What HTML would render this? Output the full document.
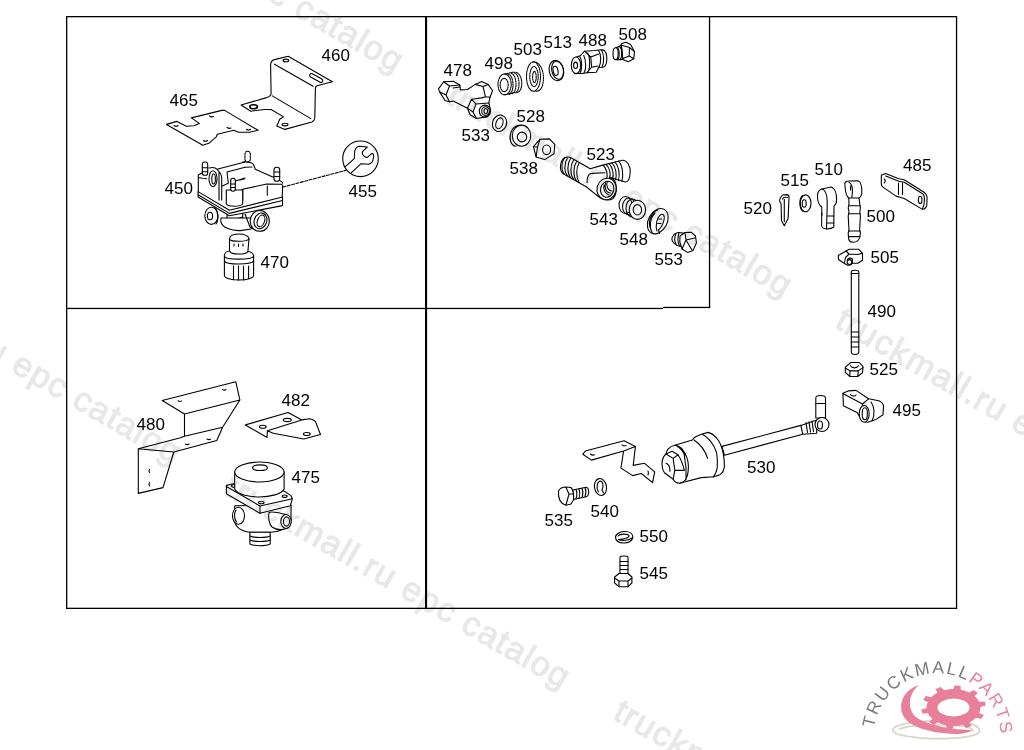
<!DOCTYPE html>
<html><head><meta charset="utf-8">
<style>
html,body{margin:0;padding:0;background:#fff;width:1024px;height:750px;overflow:hidden}
svg{position:absolute;left:0;top:0;display:block;will-change:transform}
.wm{font-family:"Liberation Sans",sans-serif;font-size:34px;fill:#e8e8e8;stroke:#e8e8e8;stroke-width:1.1px;letter-spacing:1.4px}
.lb{font-family:"Liberation Sans",sans-serif;font-size:17px;fill:#000}
.p{fill:none;stroke:#000;stroke-width:1.1;stroke-linejoin:round;stroke-linecap:round}
.f{fill:#fff;stroke:#000;stroke-width:1.1;stroke-linejoin:round;stroke-linecap:round}
</style></head>
<body>
<svg width="1024" height="750" viewBox="0 0 1024 750">
<!-- frame -->
<g fill="#000">
<rect x="66" y="16" width="891" height="1.3"/>
<rect x="66" y="607.7" width="891" height="1.3"/>
<rect x="66" y="16" width="1.3" height="593"/>
<rect x="955.9" y="16" width="1.3" height="593"/>
<rect x="425" y="16" width="2.1" height="593"/>
<rect x="66" y="307.8" width="597" height="1.3"/>
<rect x="663" y="306.8" width="47" height="1.3"/>
<rect x="708.9" y="16" width="1.3" height="292"/>
</g>
<!-- labels -->
<g class="lb">
<text x="321.5" y="61">460</text>
<text x="169.5" y="106">465</text>
<text x="164.5" y="194">450</text>
<text x="348.5" y="197">455</text>
<text x="260.5" y="268">470</text>
<text x="443.5" y="76">478</text>
<text x="484.5" y="69">498</text>
<text x="513.5" y="55">503</text>
<text x="543.5" y="47.5">513</text>
<text x="578.5" y="46">488</text>
<text x="618.5" y="40">508</text>
<text x="516.5" y="122">528</text>
<text x="461.5" y="141">533</text>
<text x="509.5" y="174">538</text>
<text x="586.5" y="160">523</text>
<text x="589.5" y="225">543</text>
<text x="619.5" y="245">548</text>
<text x="654.5" y="265">553</text>
<text x="903" y="171">485</text>
<text x="780.5" y="185.5">515</text>
<text x="814.5" y="175">510</text>
<text x="743.5" y="214">520</text>
<text x="866.5" y="221.5">500</text>
<text x="870.5" y="263">505</text>
<text x="867.5" y="317">490</text>
<text x="869.5" y="375">525</text>
<text x="892.5" y="416">495</text>
<text x="747" y="472.5">530</text>
<text x="544.5" y="526">535</text>
<text x="590.5" y="517">540</text>
<text x="639.5" y="542">550</text>
<text x="639.5" y="579">545</text>
<text x="136.5" y="429.6">480</text>
<text x="281.5" y="405.5">482</text>
<text x="291.5" y="483">475</text>
</g>

<!-- logo -->
<defs><path id="arc" d="M874.1,728.2 A63.5,63.5 0 0 1 1000.3,731.5"/></defs>
<g>
<path d="M893,729 C897,723 925,720 950,721 C972,722 982,727 979,732 C975,738 945,740 920,738 C903,736 891,734 893,729 Z M899,729.5 C906,725.5 930,724.5 955,725.5 C969,726 975,729 972,732" fill="none" stroke="#d8d8cf" stroke-width="2"/>
<path d="M980.2,710.3 L979.2,713.1 L983.9,715.1 L981.3,718.9 L976.0,717.7 L972.7,720.5 L969.5,722.4 L971.6,725.9 L966.2,727.9 L963.0,724.8 L957.9,725.8 L953.7,726.0 L952.3,729.7 L946.3,729.1 L946.3,725.3 L941.4,724.0 L937.8,722.5 L933.5,725.0 L929.1,722.1 L932.4,719.0 L929.5,716.0 L927.9,713.3 L922.3,713.6 L921.2,709.5 L926.5,708.3 L926.8,704.7 L927.8,701.9 L923.1,699.9 L925.7,696.1 L931.0,697.3 L934.3,694.5 L937.5,692.6 L935.4,689.1 L940.8,687.1 L944.0,690.2 L949.1,689.2 L953.3,689.0 L954.7,685.3 L960.7,685.9 L960.7,689.7 L965.6,691.0 L969.2,692.5 L973.5,690.0 L977.9,692.9 L974.6,696.0 L977.5,699.0 L979.1,701.7 L984.7,701.4 L985.8,705.5 L980.5,706.7 Z" fill="#e8809a"/>
<ellipse cx="953.5" cy="707.5" rx="16" ry="9" fill="#fff"/>
<path d="M919,685 C904,690 899,702 902,713 C906,726 928,733 955,734 C964,734 970,732 972,730 C955,730 928,726 916,717 C907,709 908,694 919,685 Z" fill="#e8809a"/>
<text font-family="Liberation Sans, sans-serif" font-size="17.5" letter-spacing="1.9"><textPath href="#arc" startOffset="0"><tspan fill="#7a7a7a">TRUCKMALL</tspan><tspan fill="#e8809a">PARTS</tspan></textPath></text>
</g>
<!-- PARTS -->
<!-- 520 cotter pin -->
<g class="p">
<path d="M781.1,203.9 C779,202 779,199 782.5,195 L787.1,194.6 C788.5,195 789.2,196.5 789,197.9 L788.1,218.4 L784.3,225.8 L781.5,220.7 Z M784.3,199.3 L784.3,221.6 M782.5,199 C783,197.5 785,197 787.5,197.5"/>
</g>
<!-- 515 washer -->
<g class="p">
<ellipse cx="805.6" cy="203.3" rx="5.4" ry="8.4"/>
<path d="M803,195.5 C799,197 798.5,209 803.5,211.5"/>
<ellipse cx="804.2" cy="203.5" rx="2" ry="3.8"/>
</g>
<!-- 510 clevis -->
<g class="p">
<path class="f" d="M817.5,197 C817,192 819,190 822,189 L831,187 C835,188 836.6,194 836.6,199 C836.6,203 835.5,205 834,206 L833.8,227 C831,229 826,229 823,228 L821.6,226 L821.8,207 C819,205 817.5,201 817.5,197 Z"/>
<path d="M822,189 C826,190 827.5,196 827.2,206 L826.5,229 M821.8,213 L822,215 M827,216 L833.8,216 M827,223 L833.8,223"/>
</g>
<!-- 500 rod end -->
<g class="p">
<path class="f" d="M845,186 C844,182 846,181 849,181 L858,180.8 C861,182 862,188 861.8,193 C861.5,196 860,197.5 859,198 L859.8,204 L860.4,208 L859.8,212 L860.4,216 L859.6,230 L860.4,233 L859.8,237 C859,241 856,242.2 853,242.2 C850,242.2 848.5,240 848.5,237 L848.2,233 L849,230 L848.2,216 L849,212 L848.2,208 L849,204 L848.8,198 C846,196 845.2,190 845,186 Z"/>
<path d="M848.8,182 C852,183.5 853,190 852,197 M850.5,186 L850.5,190 M849,198 L859,198 M848.5,205.8 L860,205.8 M848.5,213.7 L860,213.7 M848.5,231 L860,231 M849,236.6 L859.8,236.6"/>
</g>
<!-- 485 plate -->
<g class="p">
<path class="f" d="M881.3,175.3 L885.7,173.5 L898.7,178.7 L904.2,179.7 L923.3,191.7 C926,193.5 927.1,195.5 927.1,197.8 L926.7,206 C925.5,208.5 923.5,209.5 922,209.1 L904.2,198.5 L896,196.1 L882.6,186.9 C881.5,185.5 881.3,184.5 881.3,183.5 Z"/>
<path d="M885.7,176 L898.7,181.2 L904.2,182.2 L923,194 C925,196 925,204 922.5,208.5 M898.5,183 L898.5,194.4 M902.5,183 L902.5,194.4 M884.2,179 C885.5,180 885.5,182 884.2,183"/>
<ellipse cx="920.2" cy="199.9" rx="1.8" ry="3.6"/>
</g>
<!-- 505 clamp -->
<g class="p">
<path class="f" d="M838.3,255.5 L846,251 L849.2,249.3 L858.8,249.3 L862.5,253.3 L862.5,260.3 L857.7,263.2 L852.4,263.2 L850.8,265 L847.6,265.3 L843.3,262.7 L838.5,259.5 Z"/>
<path d="M846,251 L849,254 L858,254.5 L862.5,253.3 M849,254 L845.5,257.5 L844.5,262.5 M852.4,263.2 L852.4,259 C851,258 849,258 847.5,259.5"/>
<circle cx="849.5" cy="262" r="2.4"/>
</g>
<!-- 490 rod -->
<g class="p">
<path class="f" d="M851.3,272 C851.3,270.5 852,270.2 855,270.2 C858,270.2 858.8,270.5 858.8,272 L858.8,352 C858.8,354 857,354.5 855,354.5 C853,354.5 851.3,354 851.3,352 Z"/>
<path d="M851.3,273.5 L858.8,273.5 M851.3,332 L858.8,332 M851.3,337 L858.8,337 M851.3,342 L858.8,342 M851.3,347 L858.8,347"/>
</g>
<!-- 525 nut -->
<g class="p">
<path class="f" d="M845.3,367.1 L850.9,362.5 L859.3,362.5 L863,366.7 L862.5,372.7 L857.4,376.5 L849.9,376.5 L845.3,372.3 Z"/>
<path d="M845.3,368 L849.9,370.9 L858.2,370.9 L863,367.6 M849.9,370.9 L849.9,376.5 M858.2,370.9 L857.8,376.5 M850.5,365.8 C852,368.5 857,368.5 858.5,365.8"/>
</g>
<!-- 495 block -->
<g class="p">
<path class="f" d="M842.9,393.2 L848.1,390.9 L856,390.4 L868.6,398.8 L878.8,400.7 C881.5,402 883.5,404 883.5,406.3 L883,414.7 L876,419.4 L867.6,422.2 C864,422 862,421 861.1,419.4 L857.4,412.8 L843.4,405.8 Z"/>
<path d="M842.9,393.5 L862.5,404 L868.6,398.8 M862.5,404 L862,412 M871,402 C874,406 875.5,414 872,421"/>
<ellipse class="f" cx="864.2" cy="413.8" rx="5" ry="8.4"/>
<ellipse cx="864.8" cy="413.8" rx="2.6" ry="6"/>
<path d="M850.5,394.6 C851.5,396.5 855,396.5 856,395"/>
</g>
<!-- 530 cylinder + rod -->
<g class="p">
<path class="f" d="M816.7,420 L800.9,425.4 L722,446.4 L724.4,455.2 L802.7,434.2 L816.7,433.3 Z"/>
<path d="M800.9,425.4 L802.7,434.2 M806,422.5 L807.5,432.5 M809,421.8 L810.5,432 M812,421 L813.5,431.5"/>
<path class="f" d="M815.8,398 C815.8,396 817,395.5 820.5,395.5 C824,395.5 825.5,396 825.5,398 L825.5,418 L815.8,418 Z"/>
<path d="M815.8,403.5 L825.5,403.5"/>
<ellipse class="f" cx="822" cy="424.5" rx="7" ry="7"/>
<ellipse cx="820" cy="425" rx="2.5" ry="4"/>
<path class="f" d="M674.8,445.2 L692.4,440 C693.5,438.5 694.5,437.5 695.6,436.8 L702,434 L708.4,432.4 C714,434 719,440 720.4,444 C723,450 724.4,458 724.4,466.4 C724,470 722.5,473 720.4,474.4 L714,476.8 L701.2,477.6 L679.6,483.2 C676,483 674,481 673.2,479.2 L664.4,472.8 C662.5,470 662,467 662,464 C662,459 663.5,456 666,454 C666.5,451.5 667.5,449.5 668.4,448.8 C670.5,446.5 672.5,445.5 674.8,445.2 Z"/>
<path d="M674.8,445.2 C679,446 681,447.5 682,448.8 C686,454 688.4,460 688.4,466.4 C688.4,473 687,477.5 685.2,480 C683.5,482 681.5,483 679.6,483.2 M677.2,446.4 C681,449 684.4,452 684.4,456 C686,464 686.5,472 686,480 M694,440 C700,444 705,450 707.6,458.4 M702.8,434.4 C709,438 714,445 716.4,452 C717.5,457 717.5,463 717.2,468 C716.5,472 715,475 713.2,476.8"/>
<path d="M666,454 L672,451.2 L678,454.8 L673.2,458.4 Z M673.2,458.4 L674.8,470.4 L684.4,470.4 M674.8,470.4 L673.2,479.2 M678,454.8 C681,459 683,465 684.4,470.4"/>
<path d="M666,463.2 C668.5,464 670,467 670,471.2"/>
</g>
<!-- bracket near 530 -->
<g class="p">
<path d="M582.8,454.2 L585.4,451 L624.1,440.7 L635.4,446.6 L633.2,465.4 L644.5,463.3 L654.7,471.9 L652.6,482.6 L641.3,473.5 L632.7,475.6 L620.9,468.1 L623.6,451 L591.4,460.1 Z M635.4,446.6 L623.6,451"/>
<path d="M590.5,454 q2,1.8 4,0.8 M622,444.8 q2,1.8 4,0.8 M648,471 q0.8,2 0,4"/>
</g>
<!-- 535 bolt -->
<g class="p">
<path class="f" d="M573,490 L586,487.3 C588,487.5 588.7,490 588.7,492.5 C588.5,495 587.5,496.5 586,496.8 L573,499.5 Z"/>
<path d="M576,489.5 C577,492 577,496 576,499 M579,488.8 C580,491.5 580,495.5 579,498.3 M582,488.2 C583,491 583,495 582,497.6 M585,487.5 C586,490 586,494 585,496.8"/>
<path class="f" d="M558.5,491 C560,488 563,487 566,487 L571,487.5 C573,489 574,495 573.5,500 L571,504 L566,505.2 C561,504 558,499 558.5,491 Z"/>
<path d="M566,487.5 L569,494 L566,505 M569,494 L573.5,494"/>
</g>
<!-- 540 washer -->
<g class="p">
<ellipse cx="600.5" cy="487" rx="6" ry="8.5" transform="rotate(-10 600.5 487)"/>
<path d="M598.5,492 C596,488 597,482 600,481 C603,481 604,486 602,490 L603.5,493"/>
</g>
<!-- 550 -->
<g class="p">
<path d="M615.5,537 C615.5,533.5 621,531.5 625,531.5 C630,531.5 632.8,534 632.8,537 C632.8,541 628,543 624,543 C619,543 615.5,541 615.5,537 Z"/>
<path d="M618,536 C620,533.5 628,533.5 629,535.8 C629.5,538 623,539 618.5,539.5 C622,541 629,540.5 632,538"/>
</g>
<!-- 545 -->
<g class="p">
<path class="f" d="M620,557.5 C620,556 621,556 624,556 C627,556 628,556 628,557.5 L628,574 L620,574 Z"/>
<path d="M620,561.5 L628,561.5 M620,565.5 L628,565.5 M620,569.5 L628,569.5"/>
<path class="f" d="M614.6,577 L619,573.5 L628,573.5 L631.9,577 L631.9,583 L628,586.7 L619,586.7 L614.6,583 Z"/>
<path d="M614.6,578 L619,581 L628,581 L631.9,578 M619,581 L619,586.7 M628,581 L628,586.7"/>
</g>
<!-- 480 bracket -->
<g class="p">
<path d="M162.2,400.5 L235.8,381.8 L239.9,400 L184.5,414 Z M239.9,400 L222.6,427.2 L216.8,440.5 L173.8,452 L138.3,448.7 L179.6,438 L184.5,436.3 L184.5,414 M184.5,436.3 L222.6,427.2 M138.3,448.7 L138.3,493.4 L163,487.6 L173.8,452"/>
<path d="M178,400.8 q2,1.3 3.5,0 M222.5,389.5 q2,1.3 3.5,0 M185.5,444 q2,1.3 3.5,0 M207,439 q2,1.3 3.5,0 M149.5,469.5 q-1.2,1.5 0,3 M149.5,482.8 q-1.2,1.5 0,3"/>
</g>
<!-- 482 bracket -->
<g class="p">
<path d="M245.4,424.9 L288.1,412.5 L301.8,419.9 L309.7,418.7 C312,419 314,420 315.5,421.6 L320.5,434.5 L303.9,439 L273.2,433.2 L267.4,430.7 L267,437.4 Z M267.4,430.7 L301.8,419.9"/>
<ellipse cx="262.8" cy="426.7" rx="3.4" ry="1.5"/>
<ellipse cx="287.3" cy="420" rx="4" ry="1.6"/>
<ellipse cx="306.8" cy="434" rx="3.4" ry="1.5"/>
</g>
<!-- 475 valve -->
<g class="p">
<path class="f" d="M234.7,505.7 L291,505 L291,522 C289,528 280,532 270,532.3 L250,532.3 C240,531 235,526 234.7,520 Z"/>
<path class="f" d="M249.9,532.3 L270.2,532.3 L270.2,544 C266,546.3 254,546.3 249.9,544 Z"/>
<path d="M249.9,536 C254,538 266,538 270.2,536 M249.9,540 C254,542 266,542 270.2,540"/>
<ellipse class="f" cx="238.5" cy="515.8" rx="6" ry="8.5"/>
<path d="M236,510 C234,513 234,519 236.5,522"/>
<path class="f" d="M269,512.5 C272,511 280,513 286,514.5 L287,528.5 C282,530 276,530 272,527 C269,524 268,517 269,512.5 Z"/>
<ellipse class="f" cx="286" cy="521.5" rx="5.2" ry="7"/>
<ellipse cx="286.5" cy="521.5" rx="3" ry="4.6"/>
<path class="f" d="M226.4,485.4 L234.7,483.5 L284,491 L291,495.6 L292.3,498.7 L290.4,505.7 L260,513.3 L226.4,493.7 Z"/>
<path d="M226.4,486.5 L260,506 L292.3,498.7 M260,506 L260,513.3"/>
<ellipse cx="234" cy="486" rx="2.5" ry="1.2"/>
<ellipse cx="284.7" cy="496.2" rx="2.5" ry="1.2"/>
<ellipse cx="261.3" cy="502.5" rx="2.8" ry="1.3"/>
<path class="f" d="M234.7,472 L234.7,489 C238,495 250,497 259.4,497 C270,497 282,494 284.1,489 L284.1,472 Z"/>
<ellipse class="f" cx="259.4" cy="472" rx="24.7" ry="10"/>
<ellipse cx="260" cy="467.7" rx="7.4" ry="2.8"/>
</g>

<!-- 478 T fitting -->
<g class="p">
<path class="f" d="M438.5,88.9 L443.7,81.8 L453.3,81.2 L459.8,85 L460.4,89.9 L467.5,89.5 L475.2,84.4 L481.7,81.5 L488.1,84.4 L492.6,90.8 L490,97.3 L488.8,103 L490.7,110.8 L487.5,116.6 L476.5,118.5 L470.1,114.7 L467.5,108.2 L453.3,101.1 L449.5,101.8 L445,100.5 L439.8,92.1 Z"/>
<path d="M443.7,81.8 L449.5,86 L459.8,85 M449.5,86 L446,95 L449.5,101.8 M439.8,92.1 L446,95 M475.2,84.4 L483,86.5 L488.1,84.4 M483,86.5 L485.5,96.8 M490,97.3 L485.5,96.8 L481.7,97.9 L471.4,99.2 L467.5,108.2 M471.4,99.2 L476,104 L488.8,103 M476,104 L473,112 L476.5,118.5 M473,112 L467.5,108.2 M453,88 L460,87"/>
<ellipse cx="484.9" cy="111.1" rx="5.6" ry="6"/>
<ellipse cx="485.5" cy="111.1" rx="3.8" ry="4.4"/>
<ellipse cx="485.8" cy="111.1" rx="1.8" ry="2.6"/>
</g>
<!-- 498 bush (dotted) -->
<g class="p" stroke-dasharray="1.3,1">
<path d="M504.6,74 L514,72 M504.6,94.8 L514,92.5"/>
<path d="M508,74 C514,75 515,92 509,94.5 M511,73.3 C517,74.5 518,91.5 512,93.8 M514,72.6 C520,74 521,91 515,93 M516,72.3 C523,74 524,91 517,92.6"/>
<ellipse cx="504.6" cy="84.4" rx="6.6" ry="10.4"/>
<ellipse cx="504.2" cy="85" rx="4" ry="6.6"/>
</g>
<!-- 503 ring dotted -->
<g class="p" stroke-dasharray="1.3,1">
<path d="M533,61.8 C540,61 545,72 543,83 C542,89 539,92 535,91"/>
<ellipse cx="533.5" cy="76.6" rx="7" ry="14.6"/>
<ellipse cx="534" cy="76.5" rx="4.2" ry="10"/>
<ellipse cx="534.4" cy="77" rx="1.8" ry="5.6"/>
</g>
<!-- 513 washer -->
<g class="p">
<ellipse cx="556.4" cy="70.6" rx="7.2" ry="10.2" transform="rotate(-12 556.4 70.6)"/>
<ellipse cx="557.6" cy="70.2" rx="5.8" ry="9.2" transform="rotate(-12 557.6 70.2)"/>
<ellipse cx="555.6" cy="70.8" rx="2.4" ry="4.6" transform="rotate(-12 555.6 70.8)"/>
</g>
<!-- 488 fitting -->
<g class="p">
<path class="f" d="M576,57.2 L580.6,55.5 L584.5,51.2 L594.7,50.5 L598.6,50 L603,49.8 C606,51 607,56 606.8,60 C606.5,64 605,67 603,67.3 L598.6,67.5 L596.25,72.3 L586.9,72.7 L582,73.5 L576,73.5 Z"/>
<ellipse class="f" cx="576" cy="65.3" rx="4.7" ry="8.3"/>
<ellipse cx="575.6" cy="65.3" rx="2" ry="3.2"/>
<path d="M579.8,56.5 C582,60 582.5,69 580,73.2 M583.75,55.5 C586,60 586.5,69 584,72.8 M587.7,53 C590,57 590.5,67 588,72.6 M584.5,51.2 L590.8,57 L591.6,67.25 L586.9,72.7 M590.8,57 L598.6,54 M591.6,67.25 L598,66 M598.6,50.5 C601,54 601.5,62 599,67.4 M601.5,50 C604,54 604.5,62 602,67.3"/>
</g>
<!-- 508 plug -->
<g class="p">
<path class="f" d="M621.25,43.8 L626,42.25 L630.6,44.6 L634.5,51.6 L633.75,58.7 L628.3,61.8 L622.8,59.4 Z"/>
<path d="M622.5,45.5 L629.5,47.5 L634.5,51.6 M629.5,47.5 L629.2,56 L633.75,58.7 M629.2,56 L622.8,58.5"/>
<path class="f" d="M615.6,47.8 C617.5,47.5 620,46 621.25,45 L622.8,59.4 C620,59.8 617.5,59.8 615.6,59.6 Z"/>
<ellipse class="f" cx="615.6" cy="53.7" rx="2.6" ry="5.9"/>
<path d="M617.3,47.6 C619.5,49 620,57 617.8,59.7 M619.8,46.8 C622,48.5 622.5,57 620.2,59.7"/>
</g>
<!-- 533 washer -->
<g class="p">
<ellipse cx="499.5" cy="123.3" rx="7" ry="8.4" transform="rotate(20 499.5 123.3)"/>
<ellipse cx="499.4" cy="123.3" rx="3.4" ry="5.6" transform="rotate(20 499.4 123.3)"/>
</g>
<!-- 528 washer -->
<g class="p">
<ellipse cx="521.5" cy="135.7" rx="9.2" ry="10.6"/>
<path d="M518.5,125.3 C511,127 509,136 510.5,141 C511.5,144 513.5,146 516,146.3"/>
<ellipse cx="522" cy="137" rx="4.7" ry="4.9"/>
</g>
<!-- 538 nut -->
<g class="p">
<path class="f" d="M533.4,146.7 L540,139.3 L549.4,138.9 L554.8,144.4 L554,153.75 L544.7,159.6 L536.1,156.9 Z"/>
<path d="M540,139.3 L537.5,147 L536.1,156.9 M533.4,146.7 L537.5,147"/>
<ellipse cx="546.6" cy="149.8" rx="4" ry="4.8"/>
</g>
<!-- 523 elbow -->
<g class="p">
<path class="f" d="M570.6,157.4 L590.2,168.75 L601,165.6 L622.2,160.2 C627,160 630.5,166 630.2,172 C630,178 628,182 625.3,182 L609.7,177.3 L614,180 C617,184 617.5,194 613,198.5 C609,201 602,200 598.75,196.9 L586.25,186.7 L562.8,173.4 C559,170 560,160 565,157.5 C567,156.8 569,156.8 570.6,157.4 Z"/>
<path d="M565,157.5 C561,162 561,171 564.5,174.2 M567.5,158 C564,163 564,172 567.5,175.8 M570.5,158.5 C567,164 567,173 570.5,177.5 M573.5,160 C570,165.5 570,174.5 573.5,179.2 M576.5,161.8 C573,167 573,176 576.5,181 M579,163.2 C576,168 576,177 579,182.3"/>
<path d="M603,165.2 C607,169 608,175 606.5,179 M606,164.4 C610,168 611,175 609.5,178 M609,163.6 C613,167.5 614,175 612.5,178.8 M612,162.9 C616,167 617,175 615.5,179.8 M615,162.1 C619,166 620,174 618.5,180.7 M618.5,161.2 C622.5,165 623.5,174 622,181.5"/>
<path d="M587,182.8 C587,177 589,173.5 591.7,173.4 L605,172.7"/>
<ellipse class="f" cx="606.6" cy="189" rx="9.6" ry="10.8" transform="rotate(15 606.6 189)"/>
<ellipse cx="607.2" cy="189.3" rx="6.6" ry="8" transform="rotate(15 607.2 189.3)"/>
<path d="M604,185 C603,189 605,194 609,195 M605.5,183 C604,187 606,193 610.5,193 M607,182.5 C606,186 608,191 612,191"/>
</g>
<!-- 543 spring -->
<g class="p">
<ellipse cx="625.5" cy="205" rx="6.5" ry="8.5"/>
<ellipse cx="629" cy="206.5" rx="6.5" ry="8.5"/>
<ellipse cx="632.5" cy="208" rx="6.5" ry="9"/>
<ellipse class="f" cx="637.4" cy="209.8" rx="8.2" ry="9.6"/>
<ellipse cx="637.4" cy="209.8" rx="4.2" ry="5.2"/>
</g>
<!-- 548 circlip -->
<g class="p">
<ellipse class="f" cx="657.8" cy="221.2" rx="9.4" ry="13.4" transform="rotate(28 657.8 221.2)"/>
<path d="M650.5,228.5 C647.5,222 651,212 658,210 M652,232.5 C649,227 650,218 655,213"/>
<path d="M657,231 C655,226 657,217 661,214.5 C663.5,213.5 665,216 664,220 C663,225 660,229 658.5,229.5 L659.5,233.5"/>
<path d="M658.5,219 L662,219 M657.8,223.5 L661,223.5"/>
</g>
<!-- 553 plug -->
<g class="p">
<path class="f" d="M673,236 C675,232.5 679,232 683,233 L682,246 C679,246.5 675,245 673,242 C671.5,240 671.5,238 673,236 Z"/>
<path d="M676,233.5 C674.5,237 674.5,242 676.5,245 M679,233 C677.5,237 677.5,243 679.5,246"/>
<path class="f" d="M680,236 L685,232.5 L691,232.2 L695.5,236 L696.4,243 L693,250.5 L687.5,252.4 L682,249 L679.8,242 Z"/>
<path d="M685,232.5 L686,240 L682,249 M686,240 L695,238 M686,240 L692,250"/>
</g>

<!-- 460 bracket -->
<g class="p">
<path class="f" d="M270.6,64.7 C271,61 272,60 274.5,59.6 L288.2,56.2 L332.4,81.7 L317,85.7 C315.5,86.5 315.4,87.5 315.4,88.5 L314.8,118 C314.5,120 313.5,121.5 312,122 L284.8,129.4 L276.8,126 L279.7,119.2 L283.6,116.9 L271.1,109.5 L264.3,109.5 L250.7,111.2 L241.1,105 L266.6,97.6 C269.5,96.5 271,95 271.1,93.7 Z"/>
<path d="M274.5,64.2 L313.1,86.3 M272.3,95.9 L310.8,118.6"/>
<ellipse cx="285.9" cy="60.4" rx="2.8" ry="1.3"/>
<rect x="309" y="76.2" width="14.5" height="3.6" rx="1.8" transform="rotate(29 316.2 78)"/>
<ellipse cx="253.6" cy="106.7" rx="3.8" ry="2" stroke-width="1.6"/>
<ellipse cx="285" cy="124.6" rx="3" ry="1.3"/>
</g>
<!-- 465 gasket -->
<g class="p">
<path d="M166.5,124.4 L176.9,121.4 L186.4,126.3 L193.9,125.8 L199.3,123.4 L191.4,117.9 L221.8,110.4 L224.7,110.4 L258.1,130.3 L249.6,132.3 L238.7,132.3 L233.7,130.3 L217.3,134.3 L216.3,136.8 L208.8,143.3 L202.8,145.3 Z"/>
<path d="M174,125.5 q2,1.5 4,0 M209.5,116 q2,1.5 4,0.5 M227,127.5 q2,1.5 4,0.5 M246.5,129.3 q2,1.5 4,0 M203.5,140.5 q2,1.5 4,0"/>
</g>
<!-- 455 wrench -->
<g class="p">
<circle cx="360.5" cy="158.8" r="17.8"/>
<path d="M345.3,166.7 L354.3,158.7 L354.7,151.3 C355.5,148 357,146.5 359.3,146.3 L367.3,147 L362.7,151.3 C362,153 362.5,155 364,156 C365,157.3 366.3,157.5 367.3,157.3 L372,153.3 C373.5,154 373.8,155 373.7,156 L372.7,161.3 C371.5,163 370,164 368.7,164.3 L361,163.7 L350.7,173.3"/>
<path d="M283,187 L346,170.3" stroke-dasharray="3,1.5"/>
</g>
<!-- 450 valve -->
<g class="p">
<path d="M198.3,174.7 L202.3,173 M198.3,174.7 L198.3,192 M198.3,177 C199,178 201,178.3 206.7,178.7 M217,169.3 L245,162 M227,172 L245,167.3 M227,172 L228.3,183.3 L222.3,186 M235,181.3 L245,178 M226.3,192.7 L235,194.7 L242.7,189.3 M209,168 C213,167 216,168 217,169.3 C220,172 221.7,175 221.7,178 L221.7,200 M219,172 L219,200"/>
<ellipse class="f" cx="213" cy="178.7" rx="4" ry="8"/>
<ellipse cx="213.6" cy="179" rx="1.8" ry="5"/>
<path d="M242.7,162 C244,161.5 252,162 253.3,164.3 L255.3,169.3 L273.3,177.3 M245.3,167.3 L252,167 M242.7,189.3 L266.7,184 L281.3,184.3 C282.5,184.8 282.7,185.5 282.7,186 L282,200 M267.3,186 L267.3,195.3 M242.7,190 L242.7,200 M280,180.7 C282,181.5 282.7,182.5 282.7,183.3 M244.7,178.7 L240,180"/>
<rect class="f" x="202.3" y="162" width="5.4" height="13.3" rx="2.4"/>
<path d="M202.3,167.7 L207.7,167.7 M202.3,171.7 L207.7,171.7"/>
<rect class="f" x="245" y="151.3" width="5.3" height="10.5" rx="2.4" stroke-dasharray="2,1"/>
<rect class="f" x="274" y="167.3" width="5.7" height="14" rx="2.6"/>
<path d="M274,172 L279.7,172 M274,176.5 L279.7,176.5"/>
<path class="f" d="M226.3,190 L226.3,204 C228,207 240,207 242.7,204 L242.7,190 Z"/>
<rect class="f" x="230.7" y="178.3" width="4.6" height="13" rx="2.2"/>
<path d="M230.7,184 L235.3,184 M230.7,187.5 L235.3,187.5"/>
<path class="f" d="M198.1,191.6 L229.4,210.3 L282.5,197 L282.5,205.6 L229.4,215.8 L198.1,197 Z"/>
<path d="M198.1,194.7 L229.4,213.4 L282.5,200.5"/>
<path d="M227,215 L227,220.5 M242.7,213.4 L242.7,220.5 M227,218 C232,220 238,219 242.7,217"/>
<path class="f" d="M220.8,221.3 C222,228 232,231 240.3,230.6 L251.25,229 L252,218 L221,218 Z"/>
<ellipse class="f" cx="211.4" cy="215.8" rx="6.6" ry="8.6"/>
<path d="M214.5,208 C218,210 219,220 216,224"/>
<ellipse cx="210" cy="216" rx="2.6" ry="3.8"/>
<path d="M245,214 L250,227 L256,230"/>
<ellipse class="f" cx="259.8" cy="220.9" rx="9.6" ry="10.4"/>
<ellipse cx="260.5" cy="220.9" rx="6.2" ry="8" transform="rotate(20 260.5 220.9)"/>
<ellipse cx="261" cy="220.9" rx="3.5" ry="6" transform="rotate(20 261 220.9)"/>
</g>
<!-- 470 cap -->
<g class="p">
<path class="f" d="M224.4,255 C225,252 228,251 229.5,251 L229.5,238.6 C230,235 236,234 239.5,234 C244,234 249,236 249,239 L247.9,251.5 C250,251.5 253.6,253 253.6,256 L253.6,275.4 C253.6,278 247,280 239,280 C231,280 224.4,278 224.4,275.4 Z"/>
<path d="M229.5,239.5 C232,242 247,242 249,239 M229.5,251 C231,255 246,255 248,251.5 M224.4,256.5 C226,260 251,260 253.6,256.5 M224.4,261 C226,265 251,265 253.6,261 M233.5,266 L233.5,279 M238.5,266 L238.5,280 M243.5,266 L243.5,280 M248.6,266 L248.6,278.5 M234,244 L234,246 M238.5,244 L238.5,246.5 M243,244 L243,246"/>
</g>

<!-- watermarks -->
<g transform="rotate(30)" style="mix-blend-mode:darken">
<text class="wm" x="-13" y="-134">truckmall.ru epc catalog</text>
<text class="wm" x="436" y="-134">truckmall.ru epc catalog</text>
<text class="wm" x="885" y="-134">truckmall.ru epc catalog</text>
<text class="wm" x="-9.5" y="316">truckmall.ru epc catalog</text>
<text class="wm" x="439.5" y="316">truckmall.ru epc catalog</text>
<text class="wm" x="888.5" y="316">truckmall.ru epc catalog</text>
</g>
</svg>
</body></html>
